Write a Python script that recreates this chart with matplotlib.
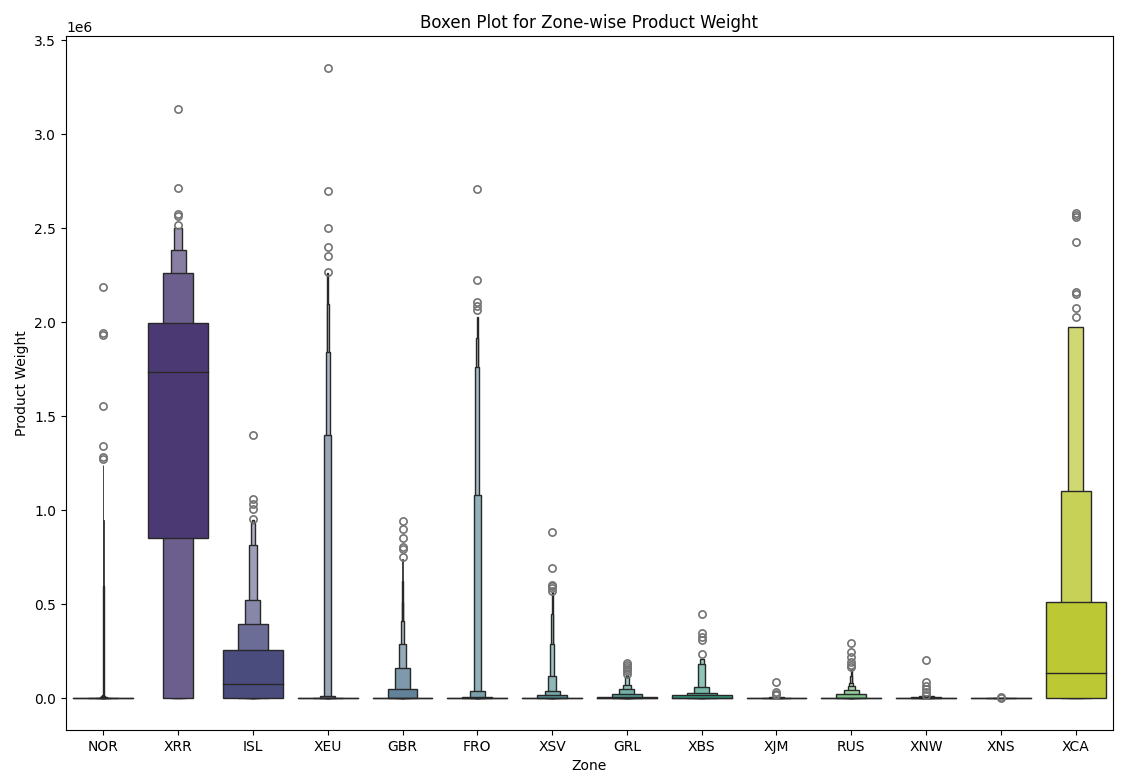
import colorsys

import numpy as np
import matplotlib
matplotlib.use("Agg")
import matplotlib.pyplot as plt
import seaborn as sns

# Letter-value tops per zone (1e6 units), innermost box first
zones = ["NOR", "XRR", "ISL", "XEU", "GBR", "FRO", "XSV", "GRL",
         "XBS", "XJM", "RUS", "XNW", "XNS", "XCA"]

level_tops = [
    [0.001, 0.002, 0.004, 0.008, 0.012, 0.02, 0.6, 0.95, 1.24],  # NOR
    [1.997, 2.261, 2.387, 2.502],                                # XRR
    [0.258, 0.394, 0.524, 0.818, 0.935, 0.95],                   # ISL
    [0.001, 0.004, 0.012, 1.404, 1.842, 2.098, 2.262],           # XEU
    [0.004, 0.05, 0.164, 0.287, 0.41, 0.512, 0.626, 0.74],       # GBR
    [0.002, 0.01, 0.04, 1.081, 1.763, 1.92, 2.03],               # FRO
    [0.003, 0.016, 0.041, 0.117, 0.291, 0.45, 0.565],            # XSV
    [0.006, 0.023, 0.048, 0.069, 0.113, 0.125],                  # GRL
    [0.02, 0.03, 0.06, 0.184, 0.211],                            # XBS
    [0.002, 0.004, 0.007, 0.01],                                 # XJM
    [0.005, 0.025, 0.046, 0.065, 0.083, 0.12, 0.158],            # RUS
    [0.004, 0.008, 0.012, 0.015],                                # XNW
    [0.001, 0.002, 0.003],                                       # XNS
    [0.512, 1.106, 1.975],                                       # XCA
]

# lower edge of the innermost box (all outer levels start at 0)
inner_lows = [0, 0.855, 0, 0, 0, 0, 0, 0, 0, 0, 0, 0, 0, 0]

medians = [0.0005, 1.735, 0.078, 0.0003, 0.001, 0.001, 0.001, 0.002,
           0.005, 0.001, 0.002, 0.003, 0.0005, 0.133]

outliers = [
    [1.276, 1.284, 1.341, 1.557, 1.934, 1.945, 2.19],
    [2.519, 2.565, 2.575, 2.716, 3.138],
    [0.957, 1.007, 1.035, 1.061, 1.401],
    [2.271, 2.355, 2.40, 2.505, 2.70, 3.356],
    [0.751, 0.796, 0.808, 0.853, 0.899, 0.944],
    [2.064, 2.087, 2.11, 2.227, 2.708],
    [0.574, 0.589, 0.60, 0.606, 0.693, 0.885],
    [0.13, 0.145, 0.155, 0.165, 0.18, 0.19],
    [0.234, 0.313, 0.327, 0.35, 0.447],
    [0.018, 0.022, 0.034, 0.087],
    [0.165, 0.176, 0.193, 0.22, 0.246, 0.294],
    [0.016, 0.034, 0.052, 0.068, 0.085, 0.207],
    [0.004, 0.006],
    [2.03, 2.075, 2.15, 2.16, 2.43, 2.56, 2.57, 2.58],
]

scale = 1e6
box_width = 0.8

palette = [sns.desaturate(c, 0.75) for c in sns.color_palette("viridis", len(zones))]
lum = min(colorsys.rgb_to_hls(*c)[1] for c in palette) * 0.6
edge = (lum, lum, lum)

fig = plt.figure(figsize=(11.22, 7.83), dpi=100)
ax = fig.add_axes([0.0588, 0.0677, 0.9332, 0.8863])

for i, zone in enumerate(zones):
    tops = level_tops[i]
    cmap = sns.light_palette(palette[i], as_cmap=True)
    # outer (narrow) levels first, inner box drawn last on top
    for k in range(len(tops) - 1, -1, -1):
        w = box_width * 2.0 ** (-k)
        low = inner_lows[i] if k == 0 else 0
        # hairline boxes get a thinner edge so they read as a whisker
        lw = 1.0 if w >= 0.012 else 0.6
        ax.bar(i, (tops[k] - low) * scale, bottom=low * scale, width=w,
               color=cmap(2 ** (-k / 3)), edgecolor=edge, linewidth=lw,
               zorder=2 + (len(tops) - k) * 0.01)
    ax.plot([i - box_width / 2, i + box_width / 2],
            [medians[i] * scale] * 2, color=edge, lw=1, zorder=3)
    ys = np.array(outliers[i]) * scale
    ax.plot(np.full(len(ys), i), ys, "o", ms=5.2, mfc="none",
            mec="0.45", mew=1.2, zorder=3)

ymax = max(max(o) for o in outliers) * scale
ax.set_ylim(-0.05 * ymax, 1.05 * ymax)
ax.set_xlim(-0.5, len(zones) - 0.5)
ax.set_xticks(range(len(zones)))
ax.set_xticklabels(zones)

ax.set_title("Boxen Plot for Zone-wise Product Weight")
ax.set_xlabel("Zone")
ax.set_ylabel("Product Weight")

plt.savefig("out.png", dpi=100)
